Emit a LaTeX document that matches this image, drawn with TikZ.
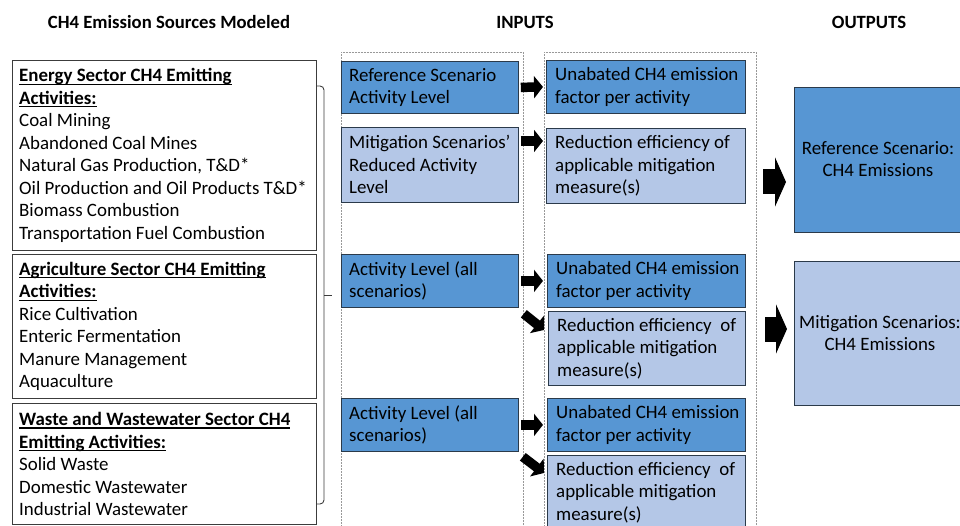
\documentclass[tikz,border=0pt]{standalone}
\usepackage{fontspec}
\setmainfont{Carlito}
\usetikzlibrary{arrows.meta}
\definecolor{dblue}{HTML}{5796D3}
\definecolor{lblue}{HTML}{B4C7E7}
\definecolor{bord}{HTML}{2B3A4A}
\definecolor{lbord}{HTML}{3C3C3C}
\newcommand\myul[1]{\setbox0\hbox{#1}\rlap{\rule[-3pt]{\wd0}{1.2pt}}\box0}
\begin{document}
\begin{tikzpicture}[x=1pt,y=-1pt,
  font=\fontsize{18.9}{22.5}\selectfont,
  hdr/.style={font=\fontsize{18.7}{20}\selectfont\bfseries},
  basebox/.style={draw=bord, line width=0.8pt, anchor=north west, inner sep=0pt},
  dbox/.style={basebox, fill=dblue},
  lbox/.style={basebox, fill=lblue},
  srcbox/.style={draw=lbord, line width=0.9pt, anchor=north west, inner sep=0pt, fill=white},
  lab/.style={anchor=west, align=left, inner sep=0pt, xshift=#1},
  lab/.default=8pt,
  colbox/.style={draw=gray!80, dashed, dash pattern=on 2pt off 1pt, line width=0.6pt, anchor=north west, inner sep=0pt},
  smallarrow/.style={line width=9.5pt, -{Triangle[length=9pt,width=22pt]}},
  bigarrow/.style={line width=25pt, -{Triangle[length=11pt,width=49pt]}},
]
\useasboundingbox (0,0) rectangle (960,526);

% headers
\node[hdr] (h1) at (169,22) {CH4 Emission Sources Modeled};
\node[hdr] (h2) at (525,22) {INPUTS};
\node[hdr] (h3) at (869,22) {OUTPUTS};

% dashed columns
\node[colbox, minimum width=182pt, minimum height=480pt] (colA) at (341,52) {};
\node[colbox, minimum width=212pt, minimum height=480pt] (colB) at (544,52) {};

% source boxes
\node[srcbox, minimum width=304pt, minimum height=190pt,
  label={[lab=7pt]west:{\bfseries\myul{Energy Sector CH4 Emitting}\\\bfseries\myul{Activities:}\\Coal Mining\\Abandoned Coal Mines\\Natural Gas Production, T\&D*\\Oil Production and Oil Products T\&D*\\Biomass Combustion\\Transportation Fuel Combustion}}] (energy) at (12,60) {};
\node[srcbox, minimum width=304pt, minimum height=144pt,
  label={[lab=7pt]west:{\bfseries\myul{Agriculture Sector CH4 Emitting}\\\bfseries\myul{Activities:}\\Rice Cultivation\\Enteric Fermentation\\Manure Management\\Aquaculture}}] (agri) at (12,254) {};
\node[srcbox, minimum width=304pt, minimum height=121pt,
  label={[lab=7pt]west:{\bfseries\myul{Waste and Wastewater Sector CH4}\\\bfseries\myul{Emitting Activities:}\\Solid Waste\\Domestic Wastewater\\Industrial Wastewater}}] (waste) at (12,403) {};

% brace
\draw[lbord, line width=0.9pt, rounded corners=4pt] (energy.east |- 0,86) -- (324,86) -- (324,504) -- (waste.east |- 0,504);
\draw[lbord, line width=0.9pt] (324,295) -- (332,295);

% column A boxes
\node[dbox, minimum width=177pt, minimum height=52pt,
  label={[lab]west:{Reference Scenario\\Activity Level}}] (refal) at (341,61) {};
\node[lbox, minimum width=177pt, minimum height=75pt,
  label={[lab]west:{Mitigation Scenarios’\\Reduced Activity\\Level}}] (mital) at (341,127) {};
\node[dbox, minimum width=177pt, minimum height=53pt,
  label={[lab]west:{Activity Level (all\\scenarios)}}] (act1) at (341,254) {};
\node[dbox, minimum width=177pt, minimum height=53pt,
  label={[lab]west:{Activity Level (all\\scenarios)}}] (act2) at (341,398) {};

% column B boxes
\node[dbox, minimum width=199pt, minimum height=53pt,
  label={[lab=9pt]west:{Unabated CH4 emission\\factor per activity}}] (ef1) at (546,60) {};
\node[lbox, minimum width=199pt, minimum height=75pt,
  label={[lab=9pt]west:{Reduction efficiency of\\applicable mitigation\\measure(s)}}] (re1) at (546,128) {};
\node[dbox, minimum width=198pt, minimum height=53pt,
  label={[lab=9pt]west:{Unabated CH4 emission\\factor per activity}}] (ef2) at (547,254) {};
\node[lbox, minimum width=197pt, minimum height=74pt,
  label={[lab=9pt]west:{Reduction efficiency\ \ of\\applicable mitigation\\measure(s)}}] (re2) at (548,311) {};
\node[dbox, minimum width=198pt, minimum height=53pt,
  label={[lab=9pt]west:{Unabated CH4 emission\\factor per activity}}] (ef3) at (547,398) {};
\node[lbox, minimum width=198pt, minimum height=74pt,
  label={[lab=9pt]west:{Reduction efficiency\ \ of\\applicable mitigation\\measure(s)}}] (re3) at (547,455) {};

% outputs
\node[dbox, minimum width=170pt, minimum height=145pt, align=center] (outR) at (794,87) {};
\node[align=center] at (878,159) {Reference Scenario:\\CH4 Emissions};
\node[lbox, minimum width=170pt, minimum height=144pt, align=center] (outM) at (794,261) {};
\node[align=center] at (880,333) {Mitigation Scenarios:\\CH4 Emissions};

% small arrows
\draw[smallarrow] ([xshift=2pt]refal.east) -- ([xshift=-3pt]ef1.west);
\draw[smallarrow] ([xshift=2pt,yshift=-14pt]mital.north east) -- ([xshift=-3pt,yshift=-13pt]re1.north west);
\draw[smallarrow] ([xshift=2pt]act1.east) -- ([xshift=-4pt]ef2.west);
\draw[smallarrow] ([xshift=5pt,yshift=-6pt]act1.south east) -- ([xshift=-4pt,yshift=-19pt]re2.north west);
\draw[smallarrow] ([xshift=2pt]act2.east) -- ([xshift=-4pt]ef3.west);
\draw[smallarrow] ([xshift=4pt,yshift=-5pt]act2.south east) -- ([xshift=-3pt,yshift=-18pt]re3.north west);

% big arrows
\coordinate (b1) at (763,182);
\coordinate (b2) at (765,329);
\draw[bigarrow] (b1) -- ([xshift=-8pt]outR.west |- b1);
\draw[bigarrow] (b2) -- ([xshift=-7pt]outM.west |- b2);
\end{tikzpicture}
\end{document}
